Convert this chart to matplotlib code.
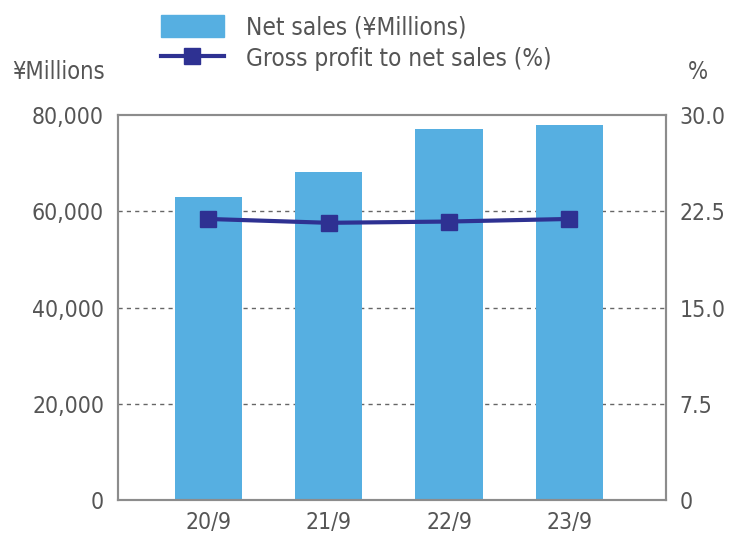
import numpy as np
import matplotlib
matplotlib.use('Agg')
import matplotlib.pyplot as plt
from matplotlib.lines import Line2D
from matplotlib.patches import Patch

plt.rcParams['font.family'] = ['DejaVu Sans']
plt.rcParams['font.stretch'] = 'condensed'

years = ['20/9', '21/9', '22/9', '23/9']
net_sales = [63000, 68200, 77100, 77900]
gross_pct = [21.9, 21.6, 21.7, 21.9]
left_ticks = [0, 20000, 40000, 60000, 80000]
right_ticks = [0, 7.5, 15.0, 22.5, 30.0]

bar_color = '#56afe1'
line_color = '#2e3192'
text_color = '#555555'
spine_color = '#8c8c8c'
fs = 16.5

fig = plt.figure(figsize=(7.3, 5.36), dpi=100)
ax = fig.add_axes([0.1616, 0.0672, 0.7504, 0.7182])
x = np.arange(len(years))

ax.bar(x, net_sales, width=0.56, color=bar_color, zorder=2)
ax.set_xlim(-0.75, 3.8)
ax.set_ylim(0, 80000)
ax.set_yticks(left_ticks)
ax.set_yticklabels(['{:,}'.format(v) for v in left_ticks])
ax.set_xticks(x)
ax.set_xticklabels(years)
for v in left_ticks[1:-1]:
    ax.axhline(v, color='#666666', linestyle=(0, (3, 3)), linewidth=1, zorder=1)

ax2 = ax.twinx()
ax2.plot(x, gross_pct, color=line_color, linewidth=3, marker='s',
         markersize=12, zorder=3)
ax2.set_ylim(0, 30)
ax2.set_yticks(right_ticks)
ax2.set_yticklabels(['0' if v == 0 else '{:.1f}'.format(v) for v in right_ticks])

for a in (ax, ax2):
    a.tick_params(length=0, labelsize=fs, colors=text_color)
    for s in a.spines.values():
        s.set_color(spine_color)
        s.set_linewidth(1.5)
ax.tick_params(axis='y', pad=10)
ax.tick_params(axis='x', pad=8)
ax2.tick_params(axis='y', pad=10)

fig.text(0.016, 0.865, '¥Millions', fontsize=17, color=text_color, va='center')
fig.text(0.942, 0.865, '%', fontsize=17, color=text_color, va='center')

handles = [Patch(color=bar_color),
           Line2D([], [], color=line_color, linewidth=3, marker='s', markersize=12)]
fig.legend(handles, ['Net sales (¥Millions)', 'Gross profit to net sales (%)'],
           loc='upper left', bbox_to_anchor=(0.19, 1.013), frameon=False,
           fontsize=17.5, labelcolor=text_color, handlelength=2.6,
           handleheight=1.05, handletextpad=0.9, labelspacing=0.28)

fig.savefig('out.png', dpi=100)
